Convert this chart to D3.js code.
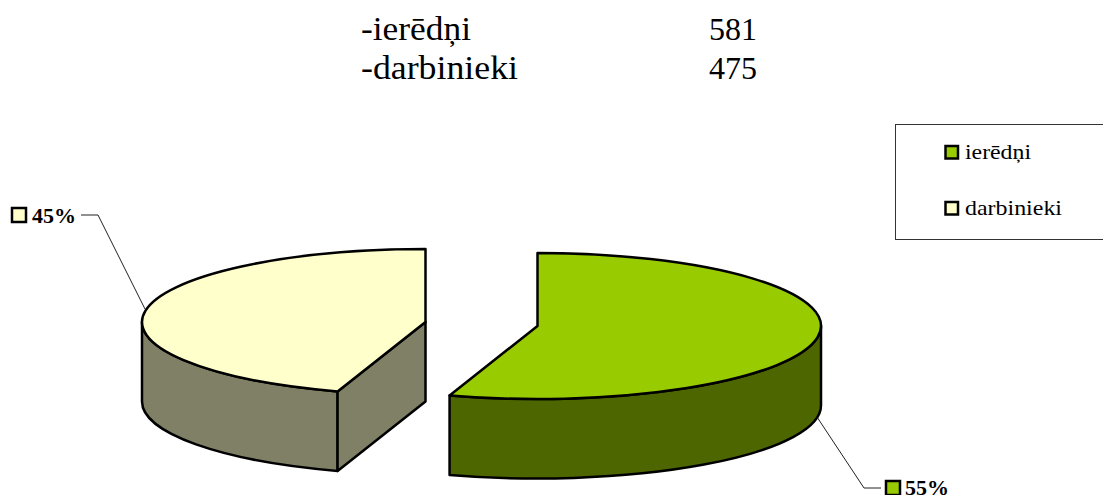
<!DOCTYPE html>
<html><head><meta charset="utf-8">
<script src="https://cdn.jsdelivr.net/npm/d3@7"></script>
<style>html,body{margin:0;background:#fff}svg{display:block}</style></head>
<body><div id="c"></div>
<script>
const categories = ["ierēdņi", "darbinieki"];
const values = [581, 475];
const percentLabels = ["55%", "45%"];
const topColors = ["#99CC00", "#FFFFCC"];
const wallColors = ["#4D6600", "#808066"];

const W = 1103, H = 495, rx = 283.5, ry = 73, depth = 79.5;
const centers = [[537.5, 326], [425.5, 322]];
const serif = "'Liberation Serif','DejaVu Serif',serif";
const svg = d3.select("#c").append("svg").attr("width", W).attr("height", H);

// header lines
const hx = 361, nx = 757, hy = [40, 79], hw = [110, 157];
categories.forEach((c, i) => {
  svg.append("text").attr("x", hx).attr("y", hy[i]).attr("font-family", serif).attr("font-size", 34)
    .attr("textLength", hw[i]).attr("lengthAdjust", "spacingAndGlyphs")
    .attr("fill", "#000").text("-" + c);
  svg.append("text").attr("x", nx).attr("y", hy[i]).attr("text-anchor", "end").attr("font-family", serif)
    .attr("font-size", 32).attr("fill", "#000").text(values[i]);
});

const arcs = d3.pie().sort(null).value(d => d)(values);
const P = (c, t, dy = 0) => [c[0] + rx * Math.sin(t), c[1] - ry * Math.cos(t) + dy];
const arcTo = (p, t0, t1, sweep) => `A${rx},${ry} 0 ${Math.abs(t1 - t0) > Math.PI ? 1 : 0} ${sweep} ${p[0]},${p[1]}`;
const wall = (c, t0, t1) => {
  const a = P(c, t0), b = P(c, t1), b2 = P(c, t1, depth), a2 = P(c, t0, depth);
  return `M${a}${arcTo(b, t0, t1, 1)}L${b2}${arcTo(a2, t0, t1, 0)}Z`;
};
const face = (c, t) => {
  const a = P(c, t), a2 = P(c, t, depth);
  return `M${c}L${a}L${a2}L${c[0]},${c[1] + depth}Z`;
};
const g = svg.append("g").attr("stroke", "#000").attr("stroke-width", 2.5).attr("stroke-linejoin", "round");
arcs.slice().reverse().forEach(d => {
  const i = d.index, c = centers[i], t0 = d.startAngle, t1 = d.endAngle;
  // visible outer wall spans the front half of the ellipse only
  const w0 = Math.max(t0, Math.PI / 2), w1 = Math.min(t1, Math.PI * 1.5);
  g.append("path").attr("d", wall(c, w0, w1)).attr("fill", wallColors[i]);
  if (t0 > Math.PI && t0 < Math.PI * 1.5)
    g.append("path").attr("d", face(c, t0)).attr("fill", wallColors[i]);
  g.append("path").attr("fill", topColors[i])
    .attr("d", `M${c}L${P(c, t0)}${arcTo(P(c, t1), t0, t1, 1)}Z`);
});

// leader lines
const leaders = [[[817, 417], [864, 488], [881, 488]], [[81, 215], [98, 215], [145, 309]]];
svg.selectAll("path.leader").data(leaders).join("path").attr("class", "leader")
  .attr("d", d3.line()).attr("fill", "none").attr("stroke", "#222").attr("stroke-width", 1);

// data labels
const labelPos = [[886, 481, 905, 495], [12, 208, 32, 223]];
percentLabels.forEach((t, i) => {
  const p = labelPos[i];
  svg.append("rect").attr("x", p[0]).attr("y", p[1]).attr("width", 14).attr("height", 14)
    .attr("fill", topColors[i]).attr("stroke", "#000").attr("stroke-width", 2.5);
  svg.append("text").attr("x", p[2]).attr("y", p[3]).attr("font-family", serif).attr("font-weight", "bold")
    .attr("font-size", 22).attr("fill", "#000").text(t);
});

// legend
svg.append("rect").attr("x", 895.5).attr("y", 124.5).attr("width", 220).attr("height", 115)
  .attr("fill", "none").attr("stroke", "#333").attr("stroke-width", 1);
const ly = [146, 202], lw = [66, 97];
categories.forEach((c, i) => {
  svg.append("rect").attr("x", 945.5).attr("y", ly[i]).attr("width", 12.5).attr("height", 12.5)
    .attr("fill", topColors[i]).attr("stroke", "#000").attr("stroke-width", 2.5);
  svg.append("text").attr("x", 965).attr("y", ly[i] + 13).attr("font-family", serif)
    .attr("font-size", 21).attr("textLength", lw[i]).attr("lengthAdjust", "spacingAndGlyphs")
    .attr("fill", "#000").text(c);
});
</script></body></html>
